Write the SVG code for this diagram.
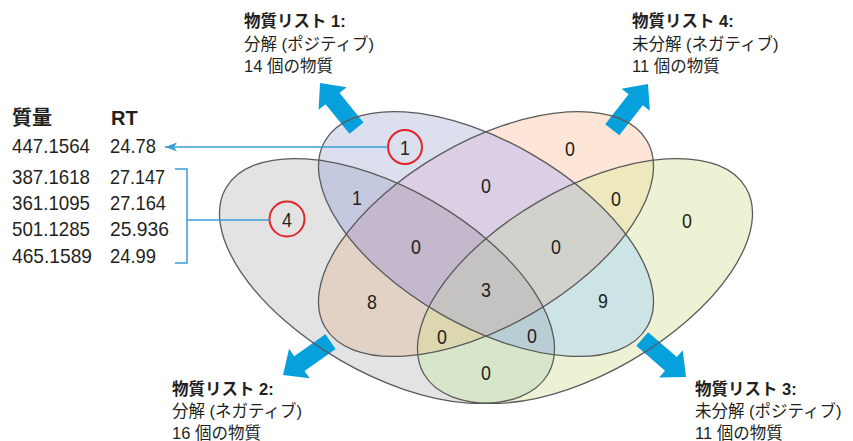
<svg xmlns="http://www.w3.org/2000/svg" xmlns:xlink="http://www.w3.org/1999/xlink" width="853" height="441" viewBox="0 0 853 441">
<style>
  .num{font-family:"Liberation Sans Narrow","Liberation Sans",sans-serif;font-size:21px;fill:#231f20;text-anchor:middle}
  .tbl{font-family:"Liberation Sans Narrow","Liberation Sans",sans-serif;font-size:21px;fill:#231f20}
  .hd{font-family:"Liberation Sans Narrow","Liberation Sans","Noto Sans CJK JP",sans-serif;font-size:20px;font-weight:bold;fill:#231f20}
  .lbl{font-family:"Liberation Sans Narrow","Liberation Sans","Noto Sans CJK JP",sans-serif;font-size:16.5px;fill:#231f20}
  .b{font-weight:bold}
  .outline{fill:none;stroke:#5a5a5a;stroke-width:1.3}
  .ring{fill:none;stroke:#e3242b;stroke-width:2}
  .conn{fill:none;stroke:#3a9fd6;stroke-width:1.5}
  .barrow{fill:#06a0dd}
</style>
<defs>
  <ellipse id="e1" cx="486" cy="234" rx="186" ry="92" transform="rotate(30 486 234)"/>
  <ellipse id="e4" cx="486" cy="234" rx="186" ry="92" transform="rotate(-30 486 234)"/>
  <ellipse id="e2" cx="387" cy="281" rx="186" ry="92" transform="rotate(30 387 281)"/>
  <ellipse id="e3" cx="585" cy="281" rx="186" ry="92" transform="rotate(-30 585 281)"/>
  <clipPath id="c1"><use xlink:href="#e1"/></clipPath>
  <clipPath id="c2"><use xlink:href="#e2"/></clipPath>
  <clipPath id="c3"><use xlink:href="#e3"/></clipPath>
  <clipPath id="c4"><use xlink:href="#e4"/></clipPath>
  <path id="barrow" class="barrow" d="M0,0 L-20,-18 L-20,-9 L-58,-9 L-58,9 L-20,9 L-20,18 Z"/>
  <marker id="ah" markerUnits="userSpaceOnUse" markerWidth="14" markerHeight="12" viewBox="0 -6 14 12" refX="12" refY="0" orient="auto">
    <path d="M12,0 L0,-4.5 L3,0 L0,4.5 Z" fill="#3a9fd6"/>
  </marker>
</defs>

<g id="list2">
  <use xlink:href="#e2" fill="#e3e3e3"/>
  <use xlink:href="#barrow" transform="translate(283,375) rotate(145)"/>
  <text class="lbl" x="172" y="395"><tspan class="b">物質リスト 2:</tspan><tspan x="172" y="417">分解 (ネガティブ)</tspan><tspan x="172" y="439">16 個の物質</tspan></text>
</g>
<g id="list3">
  <use xlink:href="#e3" fill="#eef2d4"/>
  <use xlink:href="#barrow" transform="translate(686,377) rotate(41)"/>
  <text class="lbl" x="695" y="395"><tspan class="b">物質リスト 3:</tspan><tspan x="695" y="417">未分解 (ポジティブ)</tspan><tspan x="695" y="439">11 個の物質</tspan></text>
</g>
<g id="list1">
  <use xlink:href="#e1" fill="#dcdfee"/>
  <use xlink:href="#barrow" transform="translate(320,83) rotate(-129)"/>
  <text class="lbl" x="244" y="27"><tspan class="b">物質リスト 1:</tspan><tspan x="244" y="50">分解 (ポジティブ)</tspan><tspan x="244" y="72">14 個の物質</tspan></text>
</g>
<g id="list4">
  <use xlink:href="#e4" fill="#fde5d8"/>
  <use xlink:href="#barrow" transform="translate(648,84) rotate(-52)"/>
  <text class="lbl" x="632" y="27"><tspan class="b">物質リスト 4:</tspan><tspan x="632" y="50">未分解 (ネガティブ)</tspan><tspan x="632" y="72">11 個の物質</tspan></text>
</g>

<g id="overlaps">
  <use xlink:href="#e2" clip-path="url(#c1)" fill="#c5c9e0"/>
  <use xlink:href="#e4" clip-path="url(#c1)" fill="#dccee4"/>
  <use xlink:href="#e3" clip-path="url(#c1)" fill="#cde4e6"/>
  <use xlink:href="#e4" clip-path="url(#c2)" fill="#e2d2c6"/>
  <use xlink:href="#e3" clip-path="url(#c2)" fill="#d7e6c8"/>
  <use xlink:href="#e3" clip-path="url(#c4)" fill="#eee8be"/>
  <g clip-path="url(#c1)"><use xlink:href="#e4" clip-path="url(#c2)" fill="#c4b8cc"/></g>
  <g clip-path="url(#c1)"><use xlink:href="#e4" clip-path="url(#c3)" fill="#d2d2cd"/></g>
  <g clip-path="url(#c2)"><use xlink:href="#e4" clip-path="url(#c3)" fill="#dcd7af"/></g>
  <g clip-path="url(#c1)"><use xlink:href="#e2" clip-path="url(#c3)" fill="#b9cdd4"/></g>
  <g clip-path="url(#c1)"><g clip-path="url(#c2)"><use xlink:href="#e4" clip-path="url(#c3)" fill="#c4c3c1"/></g></g>
</g>

<g id="outlines">
  <use xlink:href="#e2" class="outline"/>
  <use xlink:href="#e3" class="outline"/>
  <use xlink:href="#e1" class="outline"/>
  <use xlink:href="#e4" class="outline"/>
</g>

<g id="counts">
  <text class="num" transform="translate(405,155) scale(.85,1)">1</text>
  <text class="num" transform="translate(570,156) scale(.85,1)">0</text>
  <text class="num" transform="translate(357,205) scale(.85,1)">1</text>
  <text class="num" transform="translate(486,193) scale(.85,1)">0</text>
  <text class="num" transform="translate(416,254) scale(.85,1)">0</text>
  <text class="num" transform="translate(556,254) scale(.85,1)">0</text>
  <text class="num" transform="translate(486,297) scale(.85,1)">3</text>
  <text class="num" transform="translate(616,206) scale(.85,1)">0</text>
  <text class="num" transform="translate(687,228) scale(.85,1)">0</text>
  <text class="num" transform="translate(603,308) scale(.85,1)">9</text>
  <text class="num" transform="translate(532,343) scale(.85,1)">0</text>
  <text class="num" transform="translate(486,380) scale(.85,1)">0</text>
  <text class="num" transform="translate(372,309) scale(.85,1)">8</text>
  <text class="num" transform="translate(442,344) scale(.85,1)">0</text>
  <text class="num" transform="translate(287,227) scale(.85,1)">4</text>
  <circle class="ring" cx="405" cy="147" r="17"/>
  <circle class="ring" cx="287" cy="219" r="17.5"/>
</g>

<g id="table">
  <text class="hd" x="12" y="125">質量</text>
  <text class="hd" x="111" y="125">RT</text>
  <text class="tbl" x="12" y="153" textLength="78" lengthAdjust="spacingAndGlyphs">447.1564</text>
  <text class="tbl" x="110" y="153" textLength="46" lengthAdjust="spacingAndGlyphs">24.78</text>
  <text class="tbl" x="12" y="184" textLength="78" lengthAdjust="spacingAndGlyphs">387.1618</text>
  <text class="tbl" x="110" y="184" textLength="55" lengthAdjust="spacingAndGlyphs">27.147</text>
  <text class="tbl" x="12" y="210" textLength="78" lengthAdjust="spacingAndGlyphs">361.1095</text>
  <text class="tbl" x="110" y="210" textLength="56" lengthAdjust="spacingAndGlyphs">27.164</text>
  <text class="tbl" x="12" y="236" textLength="78" lengthAdjust="spacingAndGlyphs">501.1285</text>
  <text class="tbl" x="110" y="236" textLength="59" lengthAdjust="spacingAndGlyphs">25.936</text>
  <text class="tbl" x="12" y="263" textLength="80" lengthAdjust="spacingAndGlyphs">465.1589</text>
  <text class="tbl" x="110" y="263" textLength="46" lengthAdjust="spacingAndGlyphs">24.99</text>
</g>

<g id="connectors">
  <line class="conn" x1="388" y1="147" x2="165" y2="147" marker-end="url(#ah)"/>
  <path class="conn" d="M175,169 H187 V263 H175 M187,220 H269.5"/>
</g>
</svg>
